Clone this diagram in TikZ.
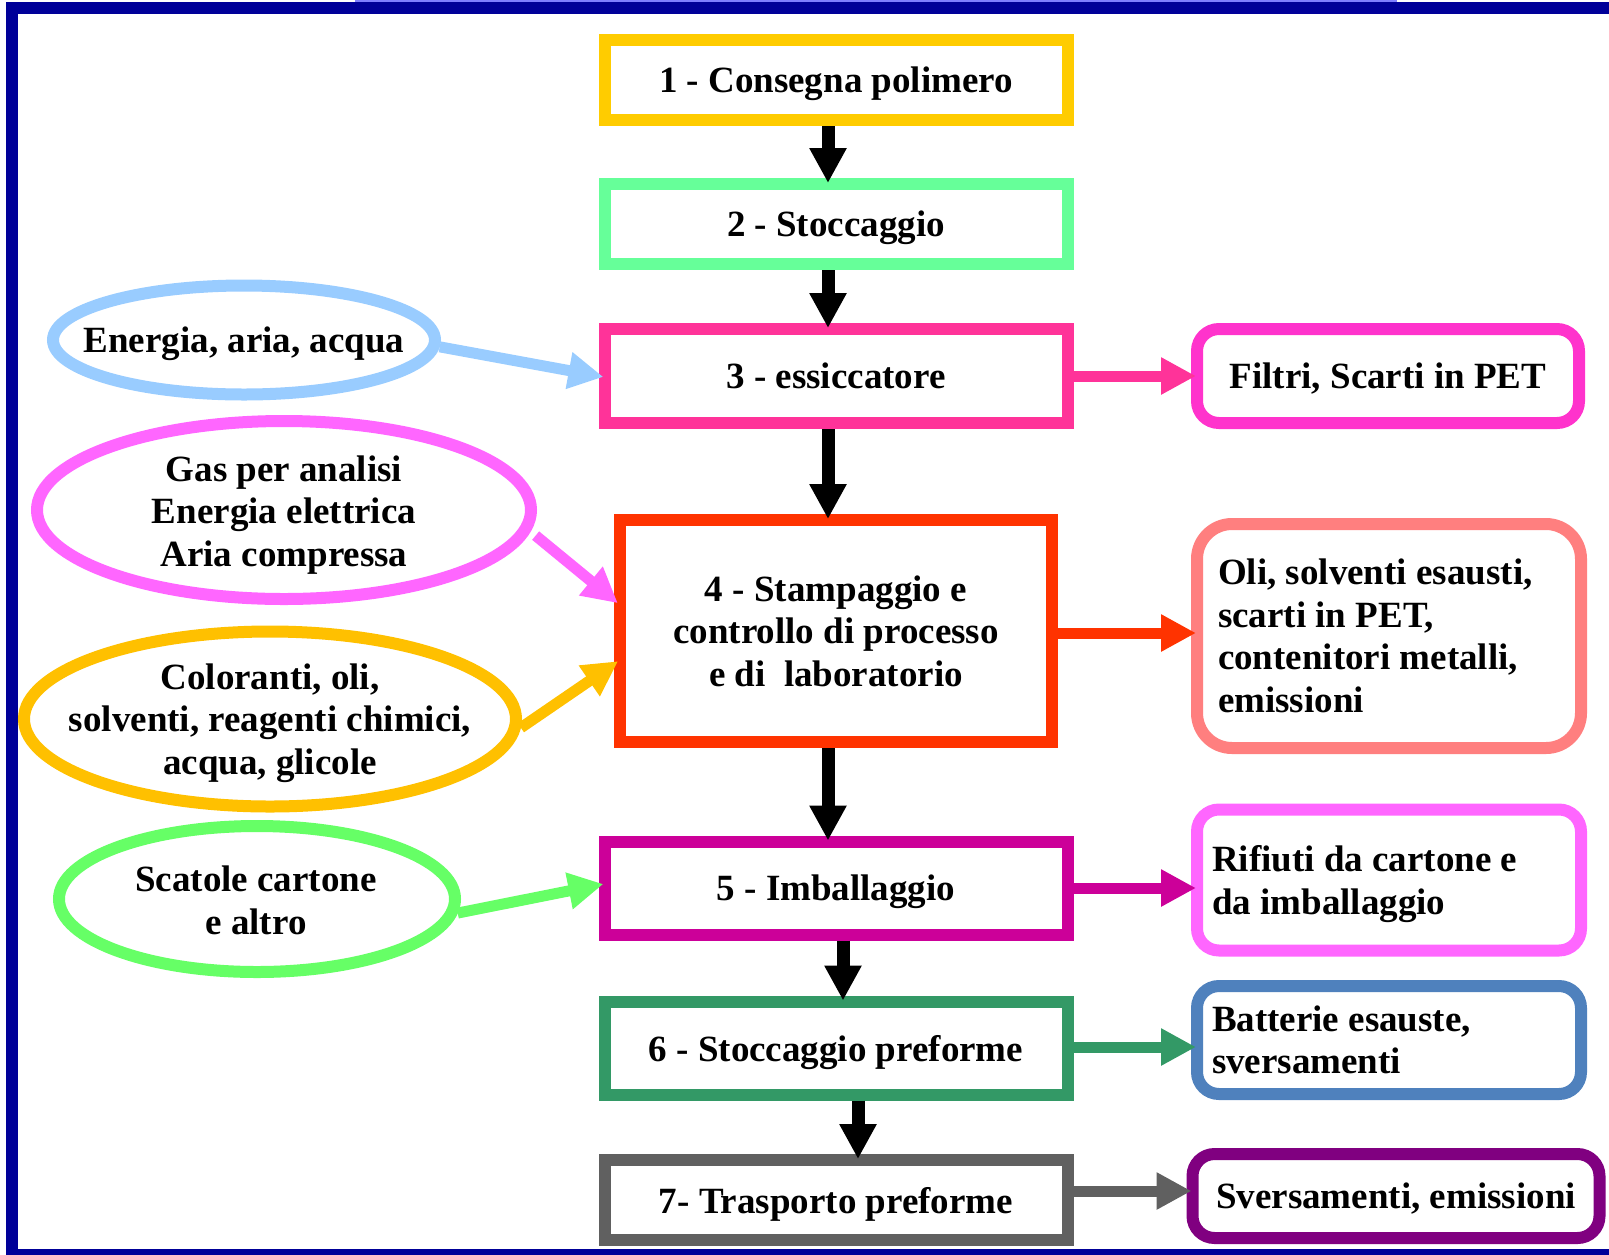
\documentclass[tikz,border=0pt]{standalone}
\usepackage{fontspec}
\setmainfont{Liberation Serif}
\usetikzlibrary{arrows.meta,shapes.geometric}
\definecolor{frameblue}{RGB}{0,0,153}
\definecolor{topline}{RGB}{127,127,255}
\definecolor{cB1}{HTML}{FFCC00}
\definecolor{cB2}{HTML}{66FF99}
\definecolor{cB3}{HTML}{FF3399}
\definecolor{cB4}{HTML}{FF3300}
\definecolor{cB5}{HTML}{CC0099}
\definecolor{cB6}{HTML}{339966}
\definecolor{cB7}{HTML}{606060}
\definecolor{cR3}{HTML}{FF33CC}
\definecolor{cR4}{HTML}{FF7F7F}
\definecolor{cR5}{HTML}{FF66FF}
\definecolor{cR6}{HTML}{4F81BD}
\definecolor{cR7}{HTML}{800080}
\definecolor{cE1}{HTML}{99CCFF}
\definecolor{cE2}{HTML}{FF66FF}
\definecolor{cE3}{HTML}{FFC000}
\definecolor{cE4}{HTML}{66FF66}
\tikzset{
  txtbase/.style={font=\fontsize{37}{42.5}\selectfont\bfseries, text=black},
  txt/.style={txtbase, text depth=0pt},
  procbox/.style={txt, draw=#1, line width=12pt, rectangle, fill=white,
    minimum width=463pt, align=center, inner sep=0pt},
  outbox/.style={txt, draw=#1, line width=12pt, rectangle, rounded corners=22pt,
    fill=white, inner ysep=0pt},
  outlist/.style={txtbase, draw=#1, line width=12pt, rectangle, rounded corners=22pt,
    fill=white, inner ysep=0pt, align=flush left},
  inell/.style={draw=#1, line width=12pt, ellipse, fill=white, inner sep=0pt},
  elltext/.style={txt, align=center, inner sep=0pt},
  mainarrow/.style={line width=13pt, draw=black, shorten >=-5pt,
    -{Triangle[length=35pt,width=35pt]}},
  sidearrow/.style={line width=11pt, draw=#1, color=#1, shorten >=-5pt,
    -{Triangle[length=35pt,width=35pt]}},
}
\begin{document}
\begin{tikzpicture}[x=1pt,y=-1pt]
\useasboundingbox (0,0) rectangle (1609,1254);
% frame
\draw[line width=12pt, frameblue, line join=miter] (1625,8) -- (12,8) -- (12,1255) -- (1625,1255);
\draw[line width=2pt, topline] (355,0.5) -- (1397,0.5);

% process boxes
\node[procbox=cB1, minimum height=80pt] (b1) at (836,80) {1 - Consegna polimero};
\node[procbox=cB2, minimum height=80pt] (b2) at (836,224) {2 - Stoccaggio};
\node[procbox=cB3, minimum height=94pt] (b3) at (836,376) {3 - essiccatore};
\node[procbox=cB4, minimum width=432pt, minimum height=222pt] (b4) at (836,631)
  {4 - Stampaggio e\\controllo di processo\\e di\ \ laboratorio};
\node[procbox=cB5, minimum height=93pt] (b5) at (836,888) {5 - Imballaggio};
\node[procbox=cB6, minimum height=93pt] (b6) at (836,1048) {6 - Stoccaggio preforme};
\node[procbox=cB7, minimum height=80pt] (b7) at (836,1200) {7- Trasporto preforme};

% output boxes
\node[outbox=cR3, minimum width=382pt, minimum height=94pt, align=center, inner xsep=0pt] (r3) at (1388,376) {Filtri, Scarti in PET};
\node[outlist=cR4, rounded corners=35pt, minimum width=384pt, minimum height=224pt, text width=342pt, inner xsep=21pt] (r4) at (1389,636)
  {Oli, solventi esausti,\\scarti in PET,\\contenitori metalli,\\emissioni};
\node[outlist=cR5, minimum width=384pt, minimum height=141pt, text width=354pt, inner xsep=15pt, text depth=42.5pt] (r5) at (1389,880)
  {Rifiuti da cartone e\\da imballaggio};
\node[outlist=cR6, minimum width=384pt, minimum height=108pt, text width=354pt, inner xsep=15pt] (r6) at (1389,1040)
  {Batterie esauste,\\sversamenti};
\node[outbox=cR7, minimum width=407pt, minimum height=84pt, align=center, inner xsep=0pt] (r7) at (1396,1196) {Sversamenti, emissioni};

% input ellipses
\node[inell=cE1, minimum width=382pt, minimum height=109pt] (e1) at (244,340) {};
\node[elltext] (e1t) at (244,340) {Energia, aria, acqua};
\node[inell=cE2, minimum width=494pt, minimum height=178pt] (e2) at (284,510) {};
\node[elltext] (e2t) at (284,511) {Gas per analisi\\Energia elettrica\\Aria compressa};
\node[inell=cE3, minimum width=492pt, minimum height=175pt] (e3) at (270,719) {};
\node[elltext] (e3t) at (270,719) {Coloranti, oli,\\solventi, reagenti chimici,\\acqua, glicole};
\node[inell=cE4, minimum width=396pt, minimum height=146pt] (e4) at (257,899) {};
\node[elltext] (e4t) at (256,900) {Scatole cartone\\e altro};

% main flow arrows
\coordinate (x1) at (828,0);
\coordinate (x5) at (843,0);
\coordinate (x6) at (858,0);
\draw[mainarrow] (b1.south -| x1) -- (b2.north -| x1);
\draw[mainarrow] (b2.south -| x1) -- (b3.north -| x1);
\draw[mainarrow] (b3.south -| x1) -- (b4.north -| x1);
\draw[mainarrow] (b4.south -| x1) -- (b5.north -| x1);
\draw[mainarrow] (b5.south -| x5) -- (b6.north -| x5);
\draw[mainarrow] (b6.south -| x6) -- (b7.north -| x6);

% output arrows
\coordinate (y3) at (0,376);
\coordinate (y4) at (0,633);
\coordinate (y5) at (0,888);
\coordinate (y6) at (0,1047);
\coordinate (y7) at (0,1191);
\draw[sidearrow=cB3] (b3.east |- y3) -- (r3.west |- y3);
\draw[sidearrow=cB4] (b4.east |- y4) -- (r4.west |- y4);
\draw[sidearrow=cB5] (b5.east |- y5) -- (r5.west |- y5);
\draw[sidearrow=cB6] (b6.east |- y6) -- (r6.west |- y6);
\draw[sidearrow=cB7] (b7.east |- y7) -- (r7.west |- y7);

% input arrows
\draw[sidearrow=cE1] (e1.-2) -- (b3.west);
\draw[sidearrow=cE2] ([xshift=8pt]e2.-6) -- ([yshift=31pt]b4.west);
\draw[sidearrow=cE3] (e3.-2) -- ([yshift=-33pt]b4.west);
\draw[sidearrow=cE4] (e4.-4) -- ([yshift=3pt]b5.west);
\end{tikzpicture}
\end{document}
